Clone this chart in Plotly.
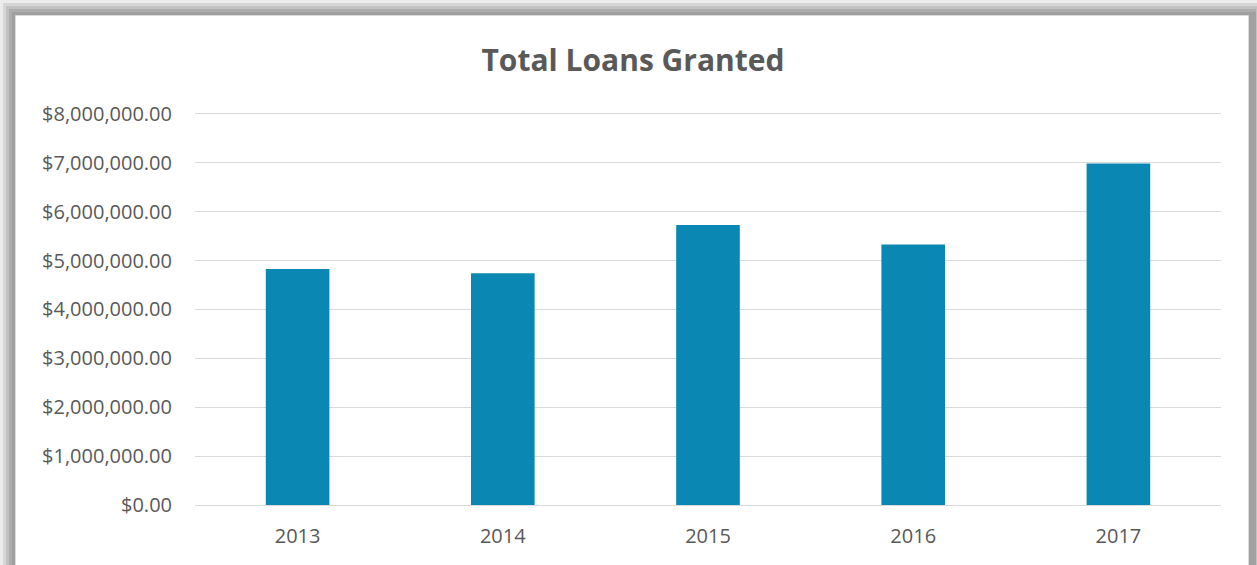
import plotly.graph_objects as go

years = ["2013", "2014", "2015", "2016", "2017"]
loans = [4827000, 4740000, 5726000, 5330000, 6987000]
tick_vals = [0, 1000000, 2000000, 3000000, 4000000, 5000000, 6000000, 7000000, 8000000]
tick_text = ["$0.00", "$1,000,000.00", "$2,000,000.00", "$3,000,000.00", "$4,000,000.00",
             "$5,000,000.00", "$6,000,000.00", "$7,000,000.00", "$8,000,000.00"]

W, H = 1257, 565
L, R, T, B = 195, 36, 112, 60
pw, ph = W - L - R, H - T - B

def px(x):
    return (x - L) / pw

def py(y):
    return 1 - (y - T) / ph

fig = go.Figure(go.Bar(x=years, y=loans, marker=dict(color="#0a88b3", line=dict(width=0)), width=0.31))

shapes = []
# shadow frame
for inset, col in [(0, "#ececec"), (3, "#d6d6d6"), (6, "#c2c2c2"), (9, "#adadad"), (12, "#a0a0a0")]:
    shapes.append(dict(type="rect", xref="paper", yref="paper", layer="below",
                       x0=px(inset), x1=px(W - inset + 12 if inset < 9 else W - 1),
                       y0=py(H + 20), y1=py(inset), fillcolor=col, line=dict(width=0)))
shapes.append(dict(type="rect", xref="paper", yref="paper", layer="below",
                   x0=px(15.5), x1=px(1248.5), y0=py(H + 20), y1=py(15.5),
                   fillcolor="white", line=dict(color="#d9d9d9", width=1)))

fig.update_layout(
    width=W, height=H,
    margin=dict(l=L, r=R, t=T, b=B),
    paper_bgcolor="white",
    plot_bgcolor="rgba(0,0,0,0)",
    shapes=shapes,
    showlegend=False,
    bargap=0.69,
    title=dict(text="<b>Total Loans Granted</b>", x=px(633), xref="paper", xanchor="center",
               y=1 - 60 / H, yanchor="middle",
               font=dict(family="Open Sans, sans-serif", size=30, color="#595959")),
    font=dict(family="Open Sans, sans-serif", size=20, color="#595959"),
    xaxis=dict(showgrid=False, showline=False, zeroline=False, ticks="",
               tickfont=dict(size=20, color="#595959"), ticklabelstandoff=17),
    yaxis=dict(range=[0, 8040000], tickvals=tick_vals, ticktext=tick_text,
               showgrid=True, gridcolor="#d9d9d9", gridwidth=1.3,
               zeroline=True, zerolinecolor="#d9d9d9", zerolinewidth=1.3,
               showline=False, ticks="", ticklabelstandoff=22,
               tickfont=dict(size=20, color="#595959")),
)

fig.write_html("out.html")
